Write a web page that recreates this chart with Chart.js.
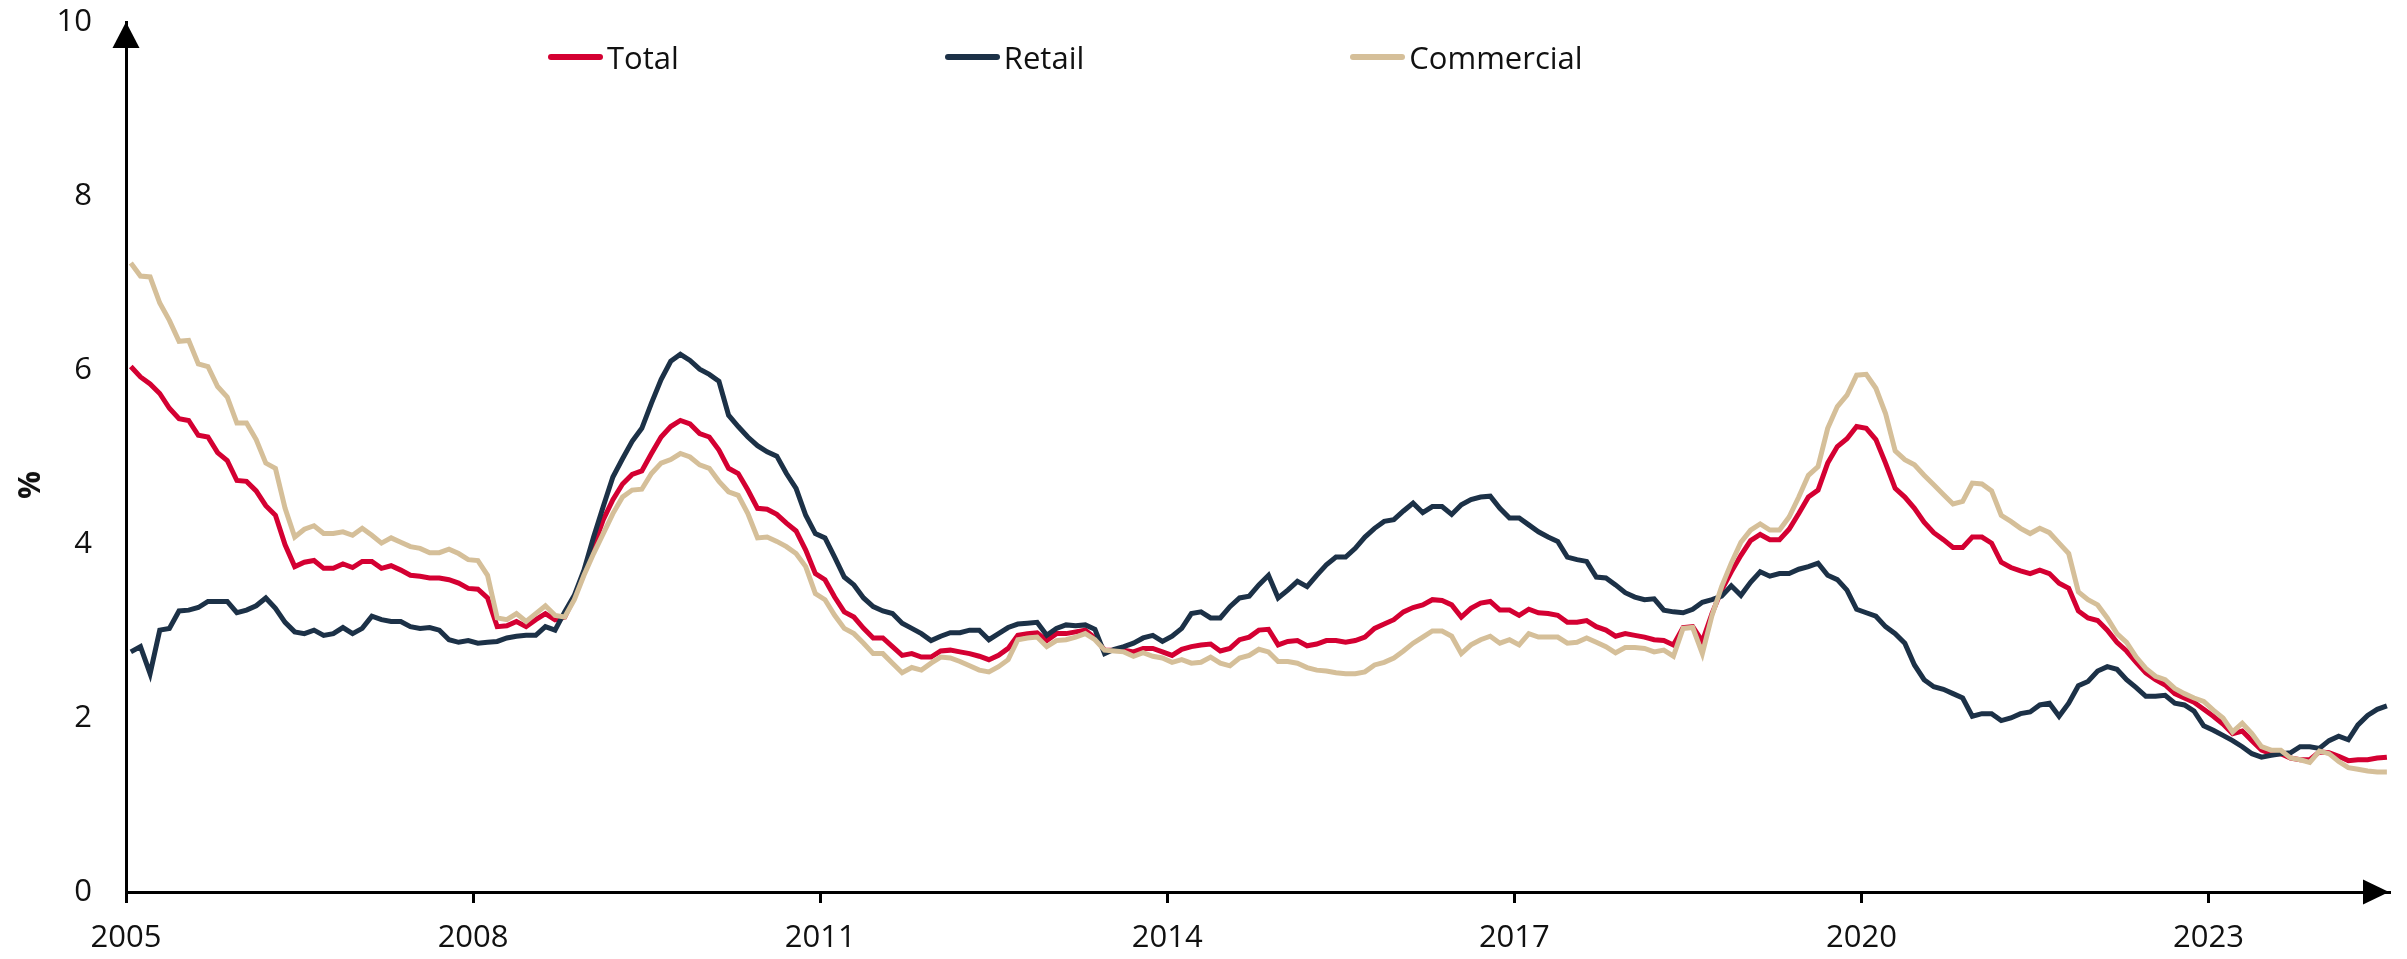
<!DOCTYPE html>
<html>
<head>
<meta charset="utf-8">
<title>Total, Retail and Commercial</title>
<script src="https://cdn.jsdelivr.net/npm/chart.js@4.4.1/dist/chart.umd.min.js"></script>
<style>
  html, body { margin: 0; padding: 0; background: #fff; }
  #wrap { position: relative; width: 2407px; height: 959px; }
  #chart { position: absolute; left: 0; top: 0; }
  .legend {
    position: absolute; left: 548px; top: 38px;
    display: flex; gap: 266px;
    font: 31px "Open Sans", sans-serif; color: #111; line-height: 38px;
  }
  .legend-item { display: flex; align-items: center; }
  .swatch { width: 55px; height: 6px; border-radius: 3px; margin-right: 4px; }
  .ytitle {
    position: absolute; left: 28px; top: 485px;
    transform: translate(-50%, -50%) rotate(-90deg);
    font: bold 31px "Open Sans", sans-serif; color: #111;
  }
</style>
</head>
<body>
<div id="wrap">
  <canvas id="chart" width="2407" height="959"></canvas>
  <div class="legend" id="legend"></div>
  <div class="ytitle">%</div>
</div>
<script>
// monthly series, Jan 2005 .. Jul 2024
const startYear = 2005;

const total = [
  6.04, 5.92, 5.84, 5.73, 5.56, 5.44, 5.42, 5.25, 5.23, 5.05, 4.96, 4.73,
  4.72, 4.61, 4.44, 4.33, 3.99, 3.74, 3.79, 3.81, 3.72, 3.72, 3.77, 3.73,
  3.80, 3.80, 3.72, 3.75, 3.70, 3.64, 3.63, 3.61, 3.61, 3.59, 3.55,
  3.49, 3.48, 3.38, 3.05, 3.06, 3.11, 3.05, 3.13, 3.20, 3.13, 3.16, 3.39,
  3.66, 3.97, 4.28, 4.51, 4.69, 4.80, 4.84, 5.04, 5.23, 5.35, 5.42, 5.38,
  5.27, 5.23, 5.08, 4.87, 4.81, 4.62, 4.41, 4.40, 4.34, 4.24, 4.15,
  3.93, 3.66, 3.59, 3.39, 3.22, 3.16, 3.03, 2.92, 2.92, 2.82, 2.72, 2.74,
  2.70, 2.70, 2.77, 2.78, 2.76, 2.74, 2.71, 2.67, 2.72, 2.80, 2.95, 2.97,
  2.98, 2.89, 2.97, 2.97, 2.99, 3.01, 2.92, 2.78, 2.78, 2.78, 2.76, 2.80,
  2.80, 2.76, 2.72, 2.79, 2.82, 2.84, 2.85, 2.77, 2.80, 2.90, 2.93, 3.01,
  3.02, 2.84, 2.88, 2.89, 2.83, 2.85, 2.89, 2.89, 2.87, 2.89, 2.93, 3.03,
  3.08, 3.13, 3.22, 3.27, 3.30, 3.36, 3.35, 3.30, 3.16, 3.26, 3.32, 3.34,
  3.24, 3.24, 3.18, 3.25, 3.21, 3.20, 3.18, 3.10, 3.10, 3.12, 3.05, 3.01,
  2.94, 2.97, 2.95, 2.93, 2.90, 2.89, 2.84, 3.04, 3.05, 2.88, 3.20, 3.47,
  3.68, 3.87, 4.04, 4.11, 4.05, 4.05, 4.17, 4.35, 4.54, 4.62, 4.93, 5.12,
  5.21, 5.35, 5.33, 5.20, 4.93, 4.64,
  4.54, 4.41, 4.25, 4.13, 4.05, 3.96, 3.96, 4.08, 4.08, 4.01, 3.79, 3.73,
  3.69, 3.66, 3.70, 3.66, 3.55, 3.49, 3.23, 3.15, 3.12, 3.01, 2.87, 2.77,
  2.64, 2.52, 2.44, 2.38, 2.28, 2.23, 2.18, 2.10, 2.02, 1.93, 1.82, 1.85,
  1.74, 1.63, 1.59, 1.59, 1.54, 1.52, 1.52, 1.61, 1.60, 1.56, 1.51, 1.52,
  1.52, 1.54, 1.55
];

const retail = [
  2.76, 2.82, 2.51, 3.01, 3.03, 3.23, 3.24, 3.27, 3.34, 3.34, 3.34, 3.21,
  3.24, 3.29, 3.38, 3.26, 3.10, 2.99, 2.97, 3.01, 2.95, 2.97, 3.04, 2.97,
  3.03, 3.17, 3.13, 3.11, 3.11, 3.05, 3.03, 3.04, 3.01, 2.90, 2.87,
  2.89, 2.86, 2.87, 2.88, 2.92, 2.94, 2.95, 2.95, 3.05, 3.01, 3.22, 3.41,
  3.70, 4.08, 4.43, 4.77, 4.98, 5.18, 5.33, 5.62, 5.89, 6.10, 6.18, 6.11,
  6.01, 5.95, 5.87, 5.48, 5.35, 5.23, 5.13, 5.06, 5.01, 4.81, 4.64,
  4.33, 4.12, 4.07, 3.85, 3.62, 3.53, 3.38, 3.28, 3.23, 3.20, 3.09, 3.03,
  2.97, 2.89, 2.94, 2.98, 2.98, 3.01, 3.01, 2.90, 2.97, 3.04, 3.08, 3.09,
  3.10, 2.95, 3.03, 3.07, 3.06, 3.07, 3.02, 2.74, 2.79, 2.82, 2.86, 2.92,
  2.95, 2.88, 2.94, 3.03, 3.20, 3.22, 3.15, 3.15, 3.28, 3.38, 3.40, 3.53,
  3.64, 3.38, 3.47, 3.57, 3.51, 3.64, 3.76, 3.85, 3.85, 3.95, 4.08, 4.18,
  4.26, 4.28, 4.38, 4.47, 4.36, 4.43, 4.43, 4.34, 4.45, 4.51, 4.54, 4.55,
  4.41, 4.30, 4.30, 4.22, 4.14, 4.08, 4.03, 3.85, 3.82, 3.80, 3.62, 3.61,
  3.53, 3.44, 3.39, 3.36, 3.37, 3.24, 3.22, 3.21, 3.25, 3.33, 3.36, 3.40,
  3.52, 3.41, 3.56, 3.68, 3.63, 3.66, 3.66, 3.71, 3.74, 3.78, 3.64, 3.59,
  3.47, 3.25, 3.21, 3.17, 3.05, 2.97,
  2.86, 2.61, 2.44, 2.36, 2.33, 2.28, 2.23, 2.02, 2.05, 2.05, 1.97, 2.00,
  2.05, 2.07, 2.15, 2.17, 2.02, 2.17, 2.37, 2.42, 2.54, 2.59, 2.56, 2.44,
  2.35, 2.25, 2.25, 2.26, 2.17, 2.15, 2.08, 1.91, 1.86, 1.80, 1.74, 1.67,
  1.59, 1.55, 1.57, 1.59, 1.60, 1.67, 1.67, 1.65, 1.74, 1.79, 1.75, 1.92,
  2.03, 2.10, 2.14
];

const commercial = [
  7.23, 7.08, 7.07, 6.77, 6.57, 6.33, 6.34, 6.07, 6.04, 5.81, 5.69, 5.39,
  5.39, 5.20, 4.93, 4.87, 4.41, 4.08, 4.17, 4.21, 4.12, 4.12, 4.14, 4.10,
  4.18, 4.10, 4.01, 4.07, 4.02, 3.97, 3.95, 3.90, 3.90, 3.94, 3.89,
  3.82, 3.81, 3.64, 3.15, 3.13, 3.20, 3.11, 3.20, 3.29, 3.18, 3.16, 3.36,
  3.64, 3.89, 4.12, 4.35, 4.54, 4.62, 4.63, 4.81, 4.93, 4.97, 5.04, 5.00,
  4.91, 4.87, 4.72, 4.60, 4.56, 4.35, 4.07, 4.08, 4.03, 3.97, 3.89,
  3.74, 3.43, 3.36, 3.18, 3.03, 2.97, 2.86, 2.74, 2.74, 2.63, 2.52, 2.58,
  2.55, 2.63, 2.70, 2.69, 2.65, 2.60, 2.55, 2.53, 2.59, 2.67, 2.90, 2.92,
  2.93, 2.82, 2.89, 2.90, 2.93, 2.97, 2.90, 2.78, 2.77, 2.76, 2.71, 2.75,
  2.71, 2.69, 2.64, 2.67, 2.63, 2.64, 2.70, 2.63, 2.60, 2.69, 2.72, 2.79,
  2.76, 2.65, 2.65, 2.63, 2.58, 2.55, 2.54, 2.52, 2.51, 2.51, 2.53, 2.61,
  2.64, 2.69, 2.77, 2.86, 2.93, 3.00, 3.00, 2.94, 2.74, 2.84, 2.90, 2.94,
  2.86, 2.90, 2.84, 2.97, 2.93, 2.93, 2.93, 2.86, 2.87, 2.92, 2.87, 2.82,
  2.75, 2.81, 2.81, 2.80, 2.76, 2.78, 2.71, 3.03, 3.04, 2.74, 3.18, 3.51,
  3.78, 4.02, 4.16, 4.23, 4.16, 4.16, 4.31, 4.54, 4.79, 4.89, 5.33, 5.58,
  5.71, 5.94, 5.95, 5.79, 5.50, 5.07,
  4.97, 4.91, 4.79, 4.68, 4.57, 4.46, 4.49, 4.70, 4.69, 4.61, 4.33, 4.26,
  4.18, 4.12, 4.18, 4.13, 4.01, 3.89, 3.45, 3.36, 3.30, 3.15, 2.97, 2.87,
  2.70, 2.57, 2.48, 2.44, 2.34, 2.28, 2.23, 2.19, 2.09, 2.00, 1.84, 1.94,
  1.82, 1.67, 1.63, 1.63, 1.54, 1.52, 1.49, 1.62, 1.59, 1.50, 1.43, 1.41,
  1.39, 1.38, 1.38
];

const yearTicks = [2005, 2008, 2011, 2014, 2017, 2020, 2023];
const yTicks    = [0, 2, 4, 6, 8, 10];

const series = [
  { label: "Total",      values: total,      color: "#d40032", order: 3 },
  { label: "Retail",     values: retail,     color: "#1c3147", order: 2 },
  { label: "Commercial", values: commercial, color: "#d5bf99", order: 1 },
];

// mid-month position on a year axis
const toPoints = (vals) => vals.map((v, i) => ({ x: startYear + (i + 0.5) / 12, y: v }));

// ── Legend ────────────────────────────────────────────────────────────────
const legendEl = document.getElementById("legend");
series.forEach((s) => {
  const item = document.createElement("div");
  item.className = "legend-item";
  item.innerHTML = `<span class="swatch" style="background:${s.color}"></span><span>${s.label}</span>`;
  legendEl.appendChild(item);
});

// ── Axis arrow heads ──────────────────────────────────────────────────────
const axisArrows = {
  id: "axisArrows",
  afterDraw(chart) {
    const { ctx, chartArea: a } = chart;
    ctx.save();
    ctx.fillStyle = "#000";
    ctx.beginPath();
    ctx.moveTo(a.right, a.bottom);
    ctx.lineTo(a.right - 26, a.bottom - 12.5);
    ctx.lineTo(a.right - 26, a.bottom + 12.5);
    ctx.closePath();
    ctx.fill();
    ctx.beginPath();
    ctx.moveTo(a.left, a.top);
    ctx.lineTo(a.left - 13.5, a.top + 26);
    ctx.lineTo(a.left + 13.5, a.top + 26);
    ctx.closePath();
    ctx.fill();
    ctx.restore();
  },
};

const tickFont = { family: "'Open Sans', sans-serif", size: 31 };

new Chart(document.getElementById("chart"), {
  type: "line",
  data: {
    datasets: series.map((s) => ({
      label: s.label,
      data: toPoints(s.values),
      borderColor: s.color,
      backgroundColor: s.color,
      borderWidth: 5,
      pointRadius: 0,
      tension: 0,
      order: s.order,
    })),
  },
  options: {
    responsive: false,
    animation: false,
    layout: { padding: { top: 22, right: 18, left: 0, bottom: 0 } },
    plugins: {
      legend: { display: false },
      tooltip: { enabled: false },
    },
    scales: {
      x: {
        type: "linear",
        min: 2005,
        max: 2024.56,
        afterBuildTicks: (scale) => { scale.ticks = yearTicks.map((v) => ({ value: v })); },
        afterFit: (scale) => { scale.height = 67; },
        ticks: { font: tickFont, color: "#111", padding: 17, maxRotation: 0, callback: (v) => String(v) },
        grid: { display: true, drawOnChartArea: false, drawTicks: true, tickLength: 11, color: "#000", lineWidth: 3 },
        border: { display: true, color: "#000", width: 3 },
      },
      y: {
        min: 0,
        max: 10,
        afterBuildTicks: (scale) => { scale.ticks = yTicks.map((v) => ({ value: v })); },
        afterFit: (scale) => {
          scale.width = 126;
          // tick padding is only meant to push labels sideways here
          scale.paddingTop = 0;
          scale.paddingBottom = 0;
        },
        ticks: { font: tickFont, color: "#111", padding: 34 },
        grid: { display: false, drawTicks: false },
        border: { display: true, color: "#000", width: 3 },
      },
    },
  },
  plugins: [axisArrows],
});
</script>
</body>
</html>
